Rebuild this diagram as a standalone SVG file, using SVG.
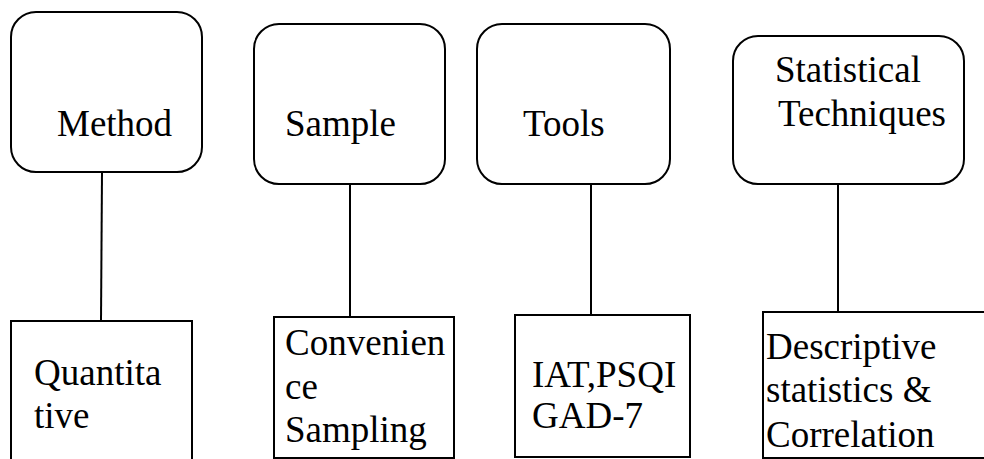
<svg xmlns="http://www.w3.org/2000/svg" width="984" height="459" viewBox="0 0 984 459">
<style>
.box{fill:#fff;stroke:#000;stroke-width:2}
.t{font-family:'Liberation Serif',Tinos,'Times New Roman','DejaVu Serif',serif;font-size:37px;fill:#000}
.c{stroke:#000;stroke-width:2;fill:none}
</style>
<rect width="984" height="459" fill="#fff"/>
<g id="connectors">
<line class="c" x1="102" y1="172" x2="101" y2="321"/>
<line class="c" x1="350" y1="184" x2="350" y2="317"/>
<line class="c" x1="591" y1="184" x2="591" y2="315"/>
<line class="c" x1="838" y1="184" x2="838" y2="312"/>
</g>
<g id="method">
<rect class="box" x="11" y="12" width="191" height="160" rx="25"/>
<text class="t" x="57" y="136">Method</text>
</g>
<g id="sample">
<rect class="box" x="254" y="24" width="191" height="160" rx="25"/>
<text class="t" x="285" y="136">Sample</text>
</g>
<g id="tools">
<rect class="box" x="477" y="24" width="193" height="160" rx="25"/>
<text class="t" x="523" y="136">Tools</text>
</g>
<g id="stat">
<rect class="box" x="733" y="36" width="231" height="148" rx="25"/>
<text class="t" x="775" y="82">Statistical</text>
<text class="t" x="778" y="126">Techniques</text>
</g>
<g id="quantitative">
<rect class="box" x="11" y="321" width="181" height="160"/>
<text class="t" x="34" y="385">Quantita</text>
<text class="t" x="34" y="428">tive</text>
</g>
<g id="convenience">
<rect class="box" x="274" y="317" width="180" height="141"/>
<text class="t" x="285" y="355">Convenien</text>
<text class="t" x="285" y="399">ce</text>
<text class="t" x="285" y="442">Sampling</text>
</g>
<g id="instruments">
<rect class="box" x="515" y="315" width="175" height="142"/>
<text class="t" x="532" y="387">IAT,PSQI</text>
<text class="t" x="532" y="428">GAD-7</text>
</g>
<g id="descriptive">
<rect class="box" x="763" y="312" width="240" height="146"/>
<text class="t" x="766" y="359">Descriptive</text>
<text class="t" x="766" y="402">statistics &amp;</text>
<text class="t" x="766" y="447">Correlation</text>
</g>
</svg>
